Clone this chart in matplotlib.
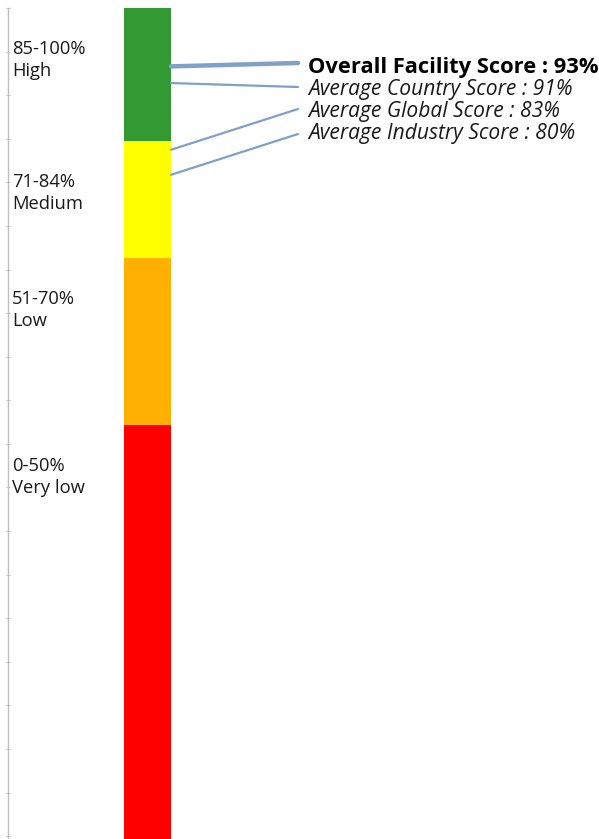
import matplotlib
matplotlib.use('Agg')
import matplotlib.pyplot as plt
import numpy as np

# ---- data ----
band_labels = ["0-50%\nVery low", "51-70%\nLow", "71-84%\nMedium", "85-100%\nHigh"]
band_bottoms = [0, 50, 70, 84]
band_tops = [50, 70, 84, 100]
band_colors = ["#FF0000", "#FFB000", "#FFFF00", "#339933"]

score_names = ["Overall Facility Score", "Average Country Score",
               "Average Global Score", "Average Industry Score"]
score_values = [93, 91, 83, 80]

# ---- layout (pixels) ----
W, H = 599, 839
fig = plt.figure(figsize=(W / 100, H / 100), dpi=100)
plt.rcParams['font.family'] = ['Open Sans', 'DejaVu Sans']

# axis: value 100 at 8 px from top, value 0 slightly below the image bottom
ax = fig.add_axes([8 / W, -3 / H, 1 - 8 / W, 834 / H])
ax.set_xlim(0, W - 8)
ax.set_ylim(0, 100)

bar_x = 139.5
bar_w = 47
heights = [t - b for t, b in zip(band_tops, band_bottoms)]
ax.bar([bar_x] * len(heights), heights, bottom=band_bottoms, width=bar_w,
       color=band_colors, edgecolor='none')

for s in ['top', 'right', 'bottom']:
    ax.spines[s].set_visible(False)
ax.spines['left'].set_color('#BFBFBF')
ax.spines['left'].set_linewidth(1.0)
ax.set_xticks([])
ax.set_yticks(np.linspace(0.7, 100, 20))
ax.set_yticklabels([])
ax.tick_params(axis='y', direction='inout', length=3, width=0.8, color='#BFBFBF')

# band labels
label_objs = []
for lab, top in zip(band_labels, band_tops):
    t = ax.text(4, top - 6.2, lab, ha='left', va='center', fontsize=11,
                color='#1a1a1a')
    label_objs.append(t)

fig.canvas.draw()
bb = label_objs[3].get_window_extent()
fs = 11 * 73 / bb.width
for t in label_objs:
    t.set_fontsize(fs)
    t.set_linespacing(24 / (fs * 100 / 72))

# score annotations
line_color = '#7FA0C8'
end_y = [63, 87, 109, 134]
text_y = [67, 89, 111, 134]
text_w = [288, 264, 251, 267]
lws = [3.2, 1.6, 1.6, 1.6]
score_texts = []
for i, (name, val) in enumerate(zip(score_names, score_values)):
    ax.annotate('', xy=(bar_x + bar_w / 2, val), xycoords='data',
                xytext=(298, H - end_y[i]), textcoords='figure pixels',
                arrowprops=dict(arrowstyle='-', color=line_color, lw=lws[i],
                                shrinkA=0, shrinkB=0))
    if i == 0:
        t = fig.text(308 / W, 1 - text_y[i] / H, f"{name} : {val}%",
                     fontsize=13, fontweight='bold', color='black',
                     ha='left', va='center')
    else:
        t = fig.text(308 / W, 1 - text_y[i] / H, f"{name} : {val}%",
                     fontsize=12, fontstyle='italic', color='#1a1a1a',
                     ha='left', va='center')
    score_texts.append(t)

fig.canvas.draw()
for t, w in zip(score_texts, text_w):
    bb = t.get_window_extent()
    t.set_fontsize(t.get_fontsize() * w / bb.width)

fig.savefig('out.png', dpi=100)
